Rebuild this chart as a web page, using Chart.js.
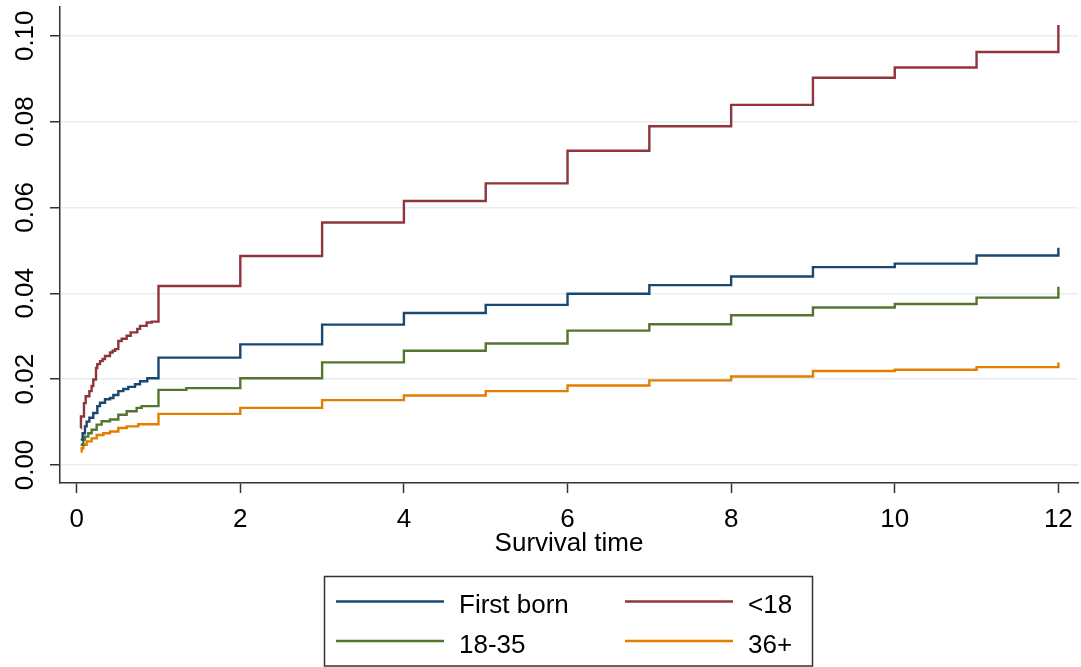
<!DOCTYPE html>
<html>
<head>
<meta charset="utf-8">
<script src="https://cdn.jsdelivr.net/npm/chart.js@4.4.1/dist/chart.umd.min.js"></script>
<style>
  html, body { margin: 0; padding: 0; background: #fff; }
  #wrap { width: 1081px; height: 667px; position: relative; }
</style>
</head>
<body>
<div id="wrap"><canvas id="kmChart"></canvas></div>
<script>
// Cumulative failure step curves
const firstBornT = [0.049, 0.073, 0.101, 0.122, 0.155, 0.203, 0.252, 0.285, 0.346, 0.407, 0.448, 0.509, 0.570, 0.631, 0.713, 0.774, 0.863, 1, 2, 3, 4, 5, 6, 7, 8, 9, 10, 11, 12];
const firstBornY = [0.0059, 0.0074, 0.0090, 0.0101, 0.0110, 0.0121, 0.0137, 0.0145, 0.0153, 0.0156, 0.0163, 0.0172, 0.0177, 0.0182, 0.0188, 0.0195, 0.0202, 0.0250, 0.0281, 0.0327, 0.0354, 0.0373, 0.0399, 0.0419, 0.0439, 0.0461, 0.0469, 0.0488, 0.0506];

const under18T = [0.049, 0.052, 0.089, 0.110, 0.155, 0.183, 0.203, 0.236, 0.252, 0.285, 0.317, 0.346, 0.407, 0.440, 0.470, 0.509, 0.550, 0.611, 0.660, 0.741, 0.774, 0.855, 0.917, 1, 2, 3, 4, 5, 6, 7, 8, 9, 10, 11, 12];
const under18Y = [0.0086, 0.0113, 0.0144, 0.0160, 0.0172, 0.0184, 0.0199, 0.0226, 0.0235, 0.0242, 0.0247, 0.0254, 0.0262, 0.0266, 0.0270, 0.0289, 0.0294, 0.0301, 0.0309, 0.0317, 0.0324, 0.0332, 0.0334, 0.0417, 0.0487, 0.0565, 0.0615, 0.0656, 0.0732, 0.0789, 0.0839, 0.0902, 0.0926, 0.0962, 0.1025];

const age1835T = [0.049, 0.081, 0.101, 0.142, 0.183, 0.244, 0.305, 0.407, 0.509, 0.611, 0.733, 0.794, 1, 1.34, 2, 3, 4, 5, 6, 7, 8, 9, 10, 11, 12];
const age1835Y = [0.0047, 0.0059, 0.0066, 0.0074, 0.0082, 0.0094, 0.0102, 0.0106, 0.0117, 0.0125, 0.0133, 0.0137, 0.0175, 0.0179, 0.0202, 0.0239, 0.0266, 0.0283, 0.0313, 0.0328, 0.0349, 0.0367, 0.0375, 0.0390, 0.0415];

const age36T = [0.049, 0.061, 0.081, 0.122, 0.183, 0.244, 0.326, 0.407, 0.509, 0.611, 0.753, 1, 2, 3, 4, 5, 6, 7, 8, 9, 10, 11, 12];
const age36Y = [0.0031, 0.0039, 0.0047, 0.0055, 0.0062, 0.0070, 0.0074, 0.0078, 0.0086, 0.0090, 0.0095, 0.0119, 0.0133, 0.0151, 0.0162, 0.0172, 0.0185, 0.0197, 0.0206, 0.0219, 0.0222, 0.0228, 0.0239];

const seriesLabels = ['First born', '<18', '18-35', '36+'];
const seriesColors = ['#1a476f', '#90353b', '#55752f', '#e37e00'];
const xTicks = [0, 2, 4, 6, 8, 10, 12];
const yTicks = [0, 0.02, 0.04, 0.06, 0.08, 0.10];

const FONT = '"Liberation Sans", Arial, sans-serif';
const pts = (t, y) => t.map((v, i) => ({ x: v, y: y[i] }));

// tick labels (y rotated, Stata style) + legend box drawn by hand
const extras = {
  id: 'extras',
  afterDraw(chart) {
    const { ctx } = chart;
    const xs = chart.scales.x, ys = chart.scales.y;
    ctx.save();
    ctx.fillStyle = '#000';
    ctx.font = '26px ' + FONT;
    ctx.textAlign = 'center';
    ctx.textBaseline = 'alphabetic';
    yTicks.forEach((v) => {
      ctx.save();
      ctx.translate(33, ys.getPixelForValue(v));
      ctx.rotate(-Math.PI / 2);
      ctx.fillText(v.toFixed(2), 0, 0);
      ctx.restore();
    });
    xTicks.forEach((v) => {
      ctx.fillText(String(v), xs.getPixelForValue(v), xs.top + 44);
    });

    ctx.strokeStyle = '#333';
    ctx.lineWidth = 1.5;
    ctx.strokeRect(324.5, 576.5, 488, 89.5);
    const cols = [336, 625], rows = [601.5, 641];
    chart.data.datasets.forEach((ds, i) => {
      const cx = cols[i % 2], cy = rows[Math.floor(i / 2)];
      ctx.strokeStyle = ds.borderColor;
      ctx.lineWidth = 2.5;
      ctx.beginPath(); ctx.moveTo(cx, cy); ctx.lineTo(cx + 108, cy); ctx.stroke();
      ctx.textAlign = 'left';
      ctx.fillText(ds.label, cx + 123, cy + 11.7);
    });
    ctx.restore();
  }
};

const series = [pts(firstBornT, firstBornY), pts(under18T, under18Y), pts(age1835T, age1835Y), pts(age36T, age36Y)];

new Chart(document.getElementById('kmChart').getContext('2d'), {
  type: 'line',
  data: {
    datasets: series.map((d, i) => ({
      label: seriesLabels[i], data: d,
      borderColor: seriesColors[i], backgroundColor: seriesColors[i],
      borderWidth: 2.4, pointRadius: 0, stepped: 'before', fill: false
    }))
  },
  options: {
    responsive: true, maintainAspectRatio: false, animation: false,
    layout: { padding: { top: 7, right: 3, bottom: 0, left: 0 } },
    plugins: { legend: { display: false }, tooltip: { enabled: false } },
    scales: {
      x: {
        type: 'linear', min: -0.204, max: 12.24,
        afterBuildTicks: (s) => { s.ticks = xTicks.map((v) => ({ value: v })); },
        afterFit: (s) => { s.height = 184; },
        ticks: { display: false },
        grid: { drawOnChartArea: false, tickLength: 10, tickColor: '#333', tickWidth: 1.5 },
        border: { display: true, color: '#333', width: 1.5 },
        title: { display: true, text: 'Survival time', color: '#000', font: { family: FONT, size: 26 }, padding: { top: 0, bottom: 108 } }
      },
      y: {
        type: 'linear', min: -0.0042, max: 0.1067,
        afterBuildTicks: (s) => { s.ticks = yTicks.map((v) => ({ value: v })); },
        afterFit: (s) => { s.width = 60; },
        ticks: { display: false },
        grid: { color: '#e6eef1', lineWidth: 1.5, tickLength: 10, tickColor: '#333', tickWidth: 1.5 },
        border: { display: true, color: '#333', width: 1.5 }
      }
    }
  },
  plugins: [extras]
});
</script>
</body>
</html>
